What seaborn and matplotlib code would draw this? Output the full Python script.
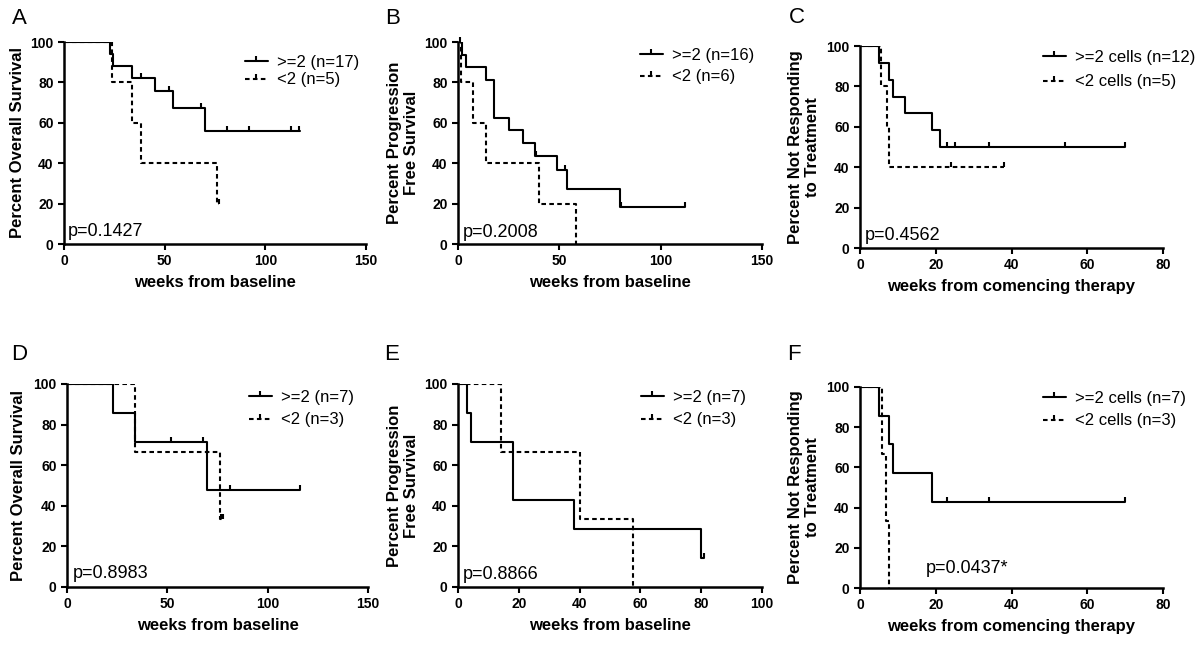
import numpy as np
import matplotlib
matplotlib.use('Agg')
import matplotlib.pyplot as plt
from matplotlib.lines import Line2D
import seaborn as sns

# Kaplan-Meier step curves: (time, percent) after each drop,
# last entry = end of follow-up. Censor times are the tick marks.

# A - overall survival
a_hi_t = [0, 23, 24.5, 34, 45, 54, 70, 117]
a_hi_s = [100, 94.1, 88.2, 82.4, 75.5, 67.2, 55.8, 55.8]
a_hi_cens = [38, 52, 68, 81, 92, 112.6, 116.6]
a_lo_t = [0, 23.7, 33.7, 38, 76, 77]
a_lo_s = [100, 80, 60, 40, 20, 20]
a_lo_cens = [77]

# B - progression free survival
b_hi_t = [0, 2, 4, 14, 18, 25, 32, 38, 49, 54, 80, 112]
b_hi_s = [100, 93.75, 87.5, 81.25, 62.5, 56.25, 50, 43.75, 36.5, 27.4, 18.3, 18.3]
b_hi_cens = [38.5, 53, 80.5, 112]
b_lo_t = [0, 1.5, 7.5, 14, 40, 58]
b_lo_s = [100, 80, 60, 40, 20, 0]
b_lo_cens = [1]

# C - not responding to treatment
c_hi_t = [0, 5, 7.7, 8.7, 12, 19, 21, 70]
c_hi_s = [100, 91.7, 83.3, 75, 66.7, 58.3, 50, 50]
c_hi_cens = [23, 25, 34, 54, 70]
c_lo_t = [0, 5.5, 7, 7.7, 38]
c_lo_s = [100, 80, 60, 40, 40]
c_lo_cens = [24, 38]

# D - overall survival
d_hi_t = [0, 23, 34, 70, 116]
d_hi_s = [100, 85.7, 71.4, 47.6, 47.6]
d_hi_cens = [52, 68, 81, 116]
d_lo_t = [0, 34, 76, 77.5]
d_lo_s = [100, 66.7, 33.3, 33.3]
d_lo_cens = [76.5, 77.5]

# E - progression free survival
e_hi_t = [0, 3, 4.2, 18, 38, 80, 81]
e_hi_s = [100, 85.7, 71.4, 42.9, 28.6, 14.3, 14.3]
e_hi_cens = [81]
e_lo_t = [0, 14, 40, 57.6]
e_lo_s = [100, 66.7, 33.3, 0]
e_lo_cens = []

# F - not responding to treatment
f_hi_t = [0, 5, 7.7, 8.7, 19, 70]
f_hi_s = [100, 85.7, 71.4, 57.1, 42.9, 42.9]
f_hi_cens = [23, 34, 70]
f_lo_t = [0, 5.8, 6.9, 7.7]
f_lo_s = [100, 66.7, 33.3, 0]
f_lo_cens = []

panels = [
    dict(letter='A', ylabel='Percent Overall Survival', xlabel='weeks from baseline',
         xmax=150, xstep=50, p='p=0.1427', px=0.013, py=0.04,
         hi=(a_hi_t, a_hi_s, a_hi_cens), lo=(a_lo_t, a_lo_s, a_lo_cens),
         labels=['>=2 (n=17)', '<2 (n=5)'],
         rect=(64, 42, 366, 244), leg=(245, 62, 18), ylx=18, letpos=(12, 8)),
    dict(letter='B', ylabel='Percent Progression\nFree Survival', xlabel='weeks from baseline',
         xmax=150, xstep=50, p='p=0.2008', px=0.016, py=0.035,
         hi=(b_hi_t, b_hi_s, b_hi_cens), lo=(b_lo_t, b_lo_s, b_lo_cens),
         labels=['>=2 (n=16)', '<2 (n=6)'],
         rect=(458, 42, 762, 244), leg=(640, 55, 22), ylx=403, letpos=(385, 8)),
    dict(letter='C', ylabel='Percent Not Responding\nto Treatment', xlabel='weeks from comencing therapy',
         xmax=80, xstep=20, p='p=0.4562', px=0.017, py=0.04,
         hi=(c_hi_t, c_hi_s, c_hi_cens), lo=(c_lo_t, c_lo_s, c_lo_cens),
         labels=['>=2 cells (n=12)', '<2 cells (n=5)'],
         rect=(860, 46, 1163, 248), leg=(1043, 57, 25), ylx=804, letpos=(789, 7)),
    dict(letter='D', ylabel='Percent Overall Survival', xlabel='weeks from baseline',
         xmax=150, xstep=50, p='p=0.8983', px=0.02, py=0.045,
         hi=(d_hi_t, d_hi_s, d_hi_cens), lo=(d_lo_t, d_lo_s, d_lo_cens),
         labels=['>=2 (n=7)', '<2 (n=3)'],
         rect=(67, 384, 368, 587), leg=(249, 397, 23), ylx=19, letpos=(11, 344)),
    dict(letter='E', ylabel='Percent Progression\nFree Survival', xlabel='weeks from baseline',
         xmax=100, xstep=20, p='p=0.8866', px=0.016, py=0.04,
         hi=(e_hi_t, e_hi_s, e_hi_cens), lo=(e_lo_t, e_lo_s, e_lo_cens),
         labels=['>=2 (n=7)', '<2 (n=3)'],
         rect=(458, 384, 762, 587), leg=(641, 397, 23), ylx=403, letpos=(384, 344)),
    dict(letter='F', ylabel='Percent Not Responding\nto Treatment', xlabel='weeks from comencing therapy',
         xmax=80, xstep=20, p='p=0.0437*', px=0.218, py=0.075,
         hi=(f_hi_t, f_hi_s, f_hi_cens), lo=(f_lo_t, f_lo_s, f_lo_cens),
         labels=['>=2 cells (n=7)', '<2 cells (n=3)'],
         rect=(860, 387, 1163, 588), leg=(1043, 398, 23), ylx=804, letpos=(787, 344)),
]

sns.set_theme(style='ticks')
plt.rcParams['font.family'] = ['Liberation Sans', 'DejaVu Sans']
plt.rcParams['text.color'] = 'black'
plt.rcParams['axes.labelcolor'] = 'black'
plt.rcParams['xtick.color'] = 'black'
plt.rcParams['ytick.color'] = 'black'

W, H = 1200, 645
fig = plt.figure(figsize=(W / 100, H / 100), dpi=100)

DASH = (0, (2.2, 1.6))
LW = 1.5
MS = 3.8


def censor_levels(t, s, cens):
    idx = np.searchsorted(np.asarray(t), np.asarray(cens), side='right') - 1
    return np.asarray(s)[idx]


for pn in panels:
    l, t, r, b = pn['rect']
    ax = fig.add_axes([l / W, 1 - b / H, (r - l) / W, (b - t) / H])

    for (tt, ss, cc), ls in [(pn['hi'], '-'), (pn['lo'], DASH)]:
        sns.lineplot(x=tt, y=ss, ax=ax, estimator=None, sort=False, color='black',
                     linewidth=LW, linestyle=ls, drawstyle='steps-post')
        if len(cc):
            ax.plot(cc, censor_levels(tt, ss, cc), linestyle='none', marker=2,
                    markersize=MS, markeredgewidth=LW, color='black', clip_on=False)

    ax.set_xlim(0, pn['xmax'])
    ax.set_ylim(0, 100)
    ax.set_xticks(np.arange(0, pn['xmax'] + 1, pn['xstep']))
    ax.set_yticks(np.arange(0, 101, 20))
    sns.despine(ax=ax)
    for side in ['left', 'bottom']:
        ax.spines[side].set_linewidth(1.8)
        ax.spines[side].set_color('black')
    ax.tick_params(length=4.5, width=1.5, labelsize=10, pad=3)
    for lab in ax.get_xticklabels() + ax.get_yticklabels():
        lab.set_fontweight('bold')

    ax.set_xlabel(pn['xlabel'], fontsize=12, fontweight='bold', va='center')
    ax.xaxis.set_label_coords(0.5, -0.19)
    ax.set_ylabel(pn['ylabel'], fontsize=12, fontweight='bold', va='center',
                  linespacing=1.15)
    ax.yaxis.set_label_coords((pn['ylx'] - l) / (r - l), 0.5)

    ax.text(pn['px'], pn['py'], pn['p'], transform=ax.transAxes, fontsize=13,
            va='baseline', ha='left')

    handles = [Line2D([], [], color='black', lw=LW, marker=2, markersize=MS, markeredgewidth=LW),
               Line2D([], [], color='black', lw=LW, linestyle=DASH, marker=2, markersize=MS,
                      markeredgewidth=LW)]
    lx, ly1, gap = pn['leg']
    fs_px = 12 * 100 / 72
    ax.legend(handles, pn['labels'], loc='center left', frameon=False, fontsize=12,
              bbox_to_anchor=((lx - l) / (r - l), (b - (ly1 + gap / 2)) / (b - t)),
              borderpad=0, borderaxespad=0, handlelength=1.35, handletextpad=0.55,
              labelspacing=(gap - 15.2) / fs_px)

    fx, fy = pn['letpos']
    fig.text(fx / W, 1 - fy / H, pn['letter'], fontsize=16, va='top', ha='left')

fig.savefig('out.png', dpi=100)
